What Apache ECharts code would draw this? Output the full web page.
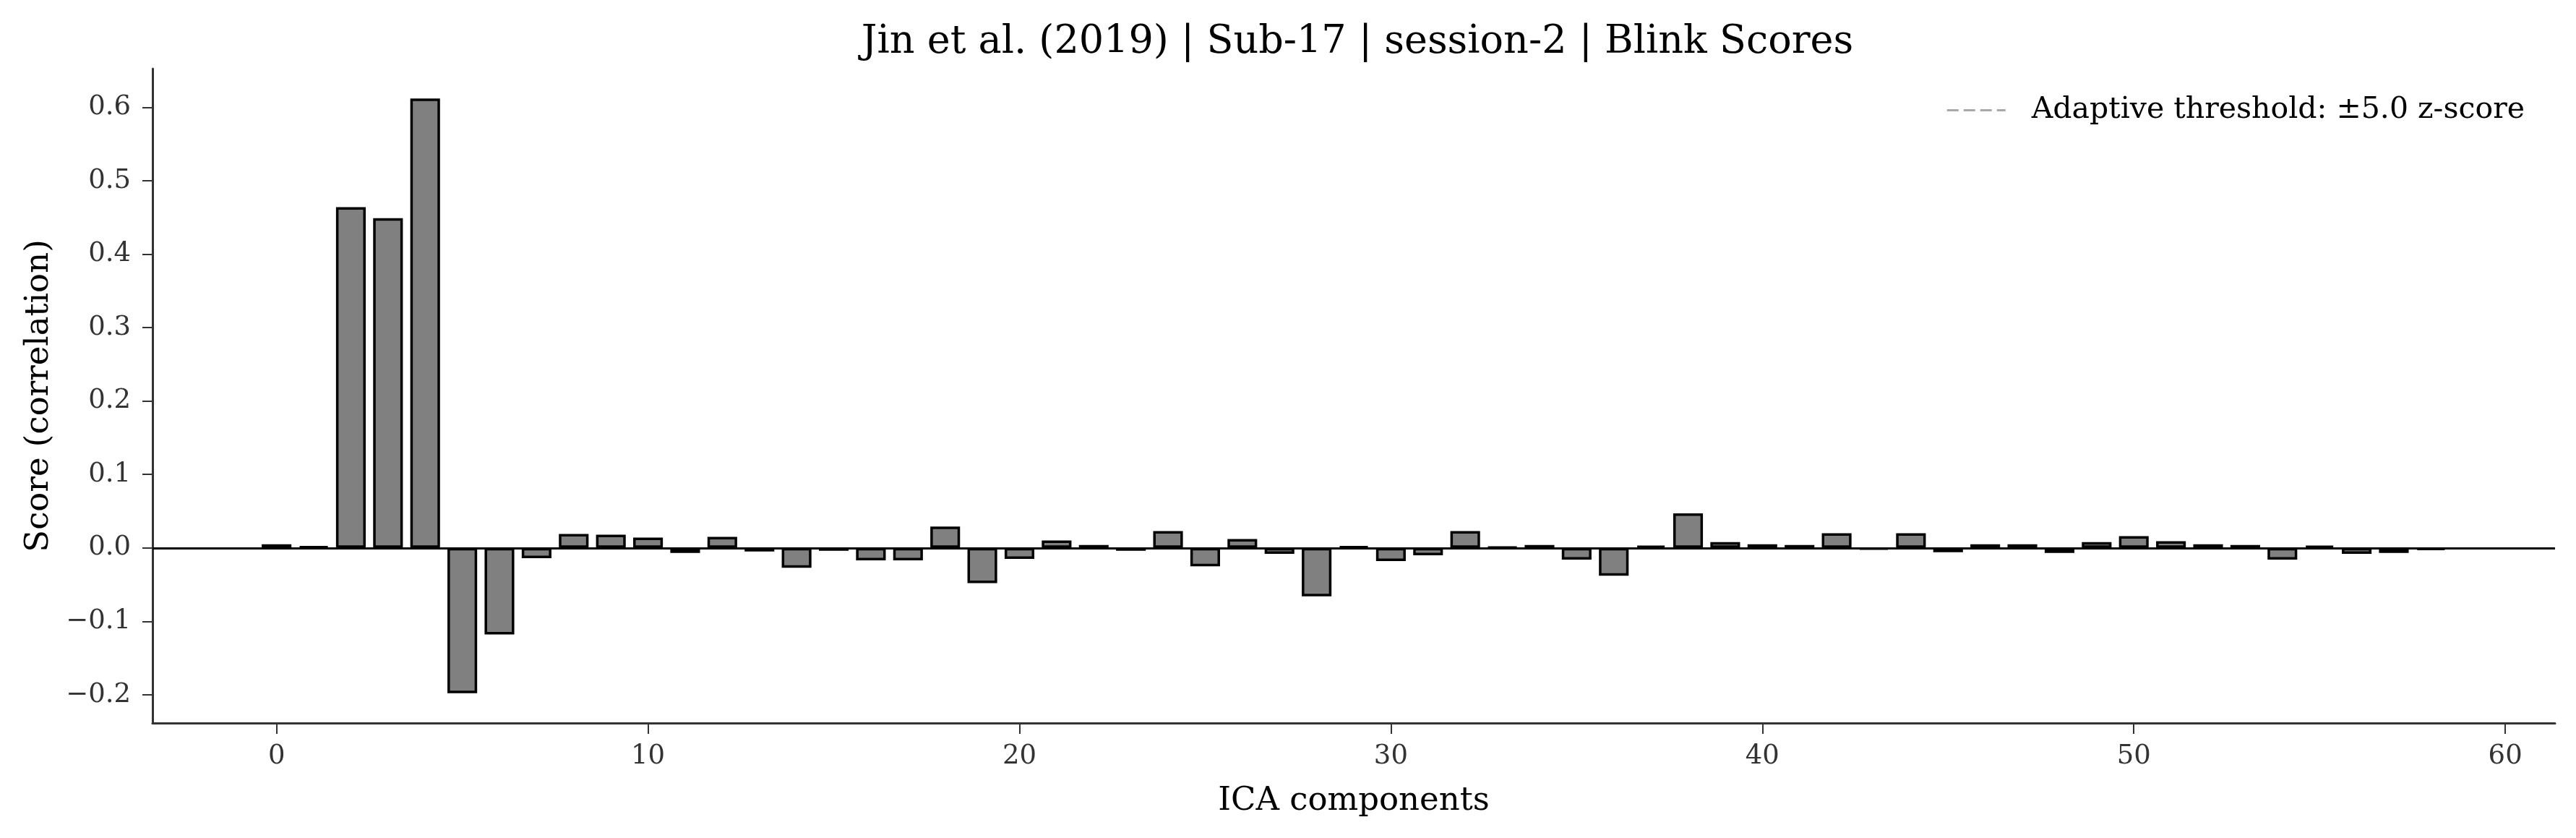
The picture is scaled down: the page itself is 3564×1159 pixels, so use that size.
<!DOCTYPE html>
<html>
<head>
<meta charset="utf-8">
<script src="https://cdn.jsdelivr.net/npm/echarts@6/dist/echarts.min.js"></script>
<style>
  html, body { margin: 0; padding: 0; background: #fff; }
  #chart { width: 3564px; height: 1159px; }
</style>
</head>
<body>
<div id="chart"></div>
<script>
// ICA component index and its blink score (correlation)
var components = [0, 1, 2, 3, 4, 5, 6, 7, 8, 9, 10, 11, 12, 13, 14, 15, 16, 17, 18, 19,
  20, 21, 22, 23, 24, 25, 26, 27, 28, 29, 30, 31, 32, 33, 34, 35, 36, 37, 38, 39,
  40, 41, 42, 43, 44, 45, 46, 47, 48, 49, 50, 51, 52, 53, 54, 55, 56, 57, 58];
var scores = [0.005, 0.002, 0.464, 0.449, 0.612, -0.198, -0.118, -0.014, 0.019, 0.018,
  0.014, -0.007, 0.015, -0.005, -0.027, -0.004, -0.017, -0.017, 0.029, -0.048,
  -0.015, 0.010, 0.004, -0.004, 0.023, -0.025, 0.012, -0.008, -0.066, 0.002,
  -0.018, -0.010, 0.023, 0.001, 0.004, -0.016, -0.038, 0.003, 0.047, 0.008,
  0.005, 0.004, 0.020, -0.002, 0.020, -0.006, 0.005, 0.005, -0.007, 0.008,
  0.016, 0.009, 0.005, 0.004, -0.016, 0.003, -0.008, -0.007, -0.003];
var xTicks = [0, 10, 20, 30, 40, 50, 60];
var yTicks = [-0.2, -0.1, 0.0, 0.1, 0.2, 0.3, 0.4, 0.5, 0.6];
var titleText = 'Jin et al. (2019) | Sub-17 | session-2 | Blink Scores';
var legendName = 'Adaptive threshold: \u00b15.0 z-score';

var font = 'DejaVu Serif';
var barW = 0.8;
var threshGrey = '#a8a8a8';

// axis limits like matplotlib autoscale (5% margins)
var xlo = components[0] - barW / 2, xhi = components[components.length - 1] + barW / 2;
var xMin = xlo - 0.05 * (xhi - xlo), xMax = xhi + 0.05 * (xhi - xlo);
var ylo = Math.min(0, Math.min.apply(null, scores)), yhi = Math.max(0, Math.max.apply(null, scores));
var yMin = ylo - 0.05 * (yhi - ylo), yMax = yhi + 0.05 * (yhi - ylo);

var grid = { left: 211, right: 29, top: 95, bottom: 159 };
var pxPerUnit = (3564 - grid.left - grid.right) / (xMax - xMin);

var barData = components.map(function (c, i) { return [c, scores[i]]; });

var chart = echarts.init(document.getElementById('chart'), null, { renderer: 'canvas' });
chart.setOption({
  animation: false,
  backgroundColor: '#fff',
  title: {
    text: titleText,
    left: grid.left + (3564 - grid.left - grid.right) / 2,
    textAlign: 'center',
    top: 27,
    textStyle: { fontFamily: font, fontSize: 54, fontWeight: 'normal', color: '#000' }
  },
  legend: {
    data: [legendName],
    right: 71,
    top: 132,
    padding: 0,
    itemWidth: 81,
    itemHeight: 20,
    itemStyle: { opacity: 0 },
    lineStyle: { color: threshGrey, width: 3, type: [16, 7], opacity: 1 },
    textStyle: { fontFamily: font, fontSize: 41, color: '#000', padding: [0, 0, 0, 31] }
  },
  grid: grid,
  xAxis: {
    type: 'value',
    min: xMin,
    max: xMax,
    name: 'ICA components',
    nameLocation: 'middle',
    nameGap: 86,
    nameTextStyle: { fontFamily: font, fontSize: 45, color: '#000' },
    axisLine: { show: true, onZero: false, lineStyle: { color: '#333', width: 3 } },
    axisTick: { show: true, length: 15, customValues: xTicks, lineStyle: { color: '#333', width: 2 } },
    axisLabel: {
      customValues: xTicks,
      margin: 28,
      fontFamily: font, fontSize: 37, color: '#333',
      formatter: function (v) { return String(v); }
    },
    splitLine: { show: false }
  },
  yAxis: {
    type: 'value',
    min: yMin,
    max: yMax,
    name: 'Score (correlation)',
    nameLocation: 'middle',
    nameRotate: 90,
    nameGap: 134,
    nameTextStyle: { fontFamily: font, fontSize: 45, color: '#000' },
    axisLine: { show: true, onZero: false, lineStyle: { color: '#333', width: 3 } },
    axisTick: { show: true, length: 14, customValues: yTicks, lineStyle: { color: '#333', width: 2 } },
    axisLabel: {
      customValues: yTicks,
      margin: 30,
      fontFamily: font, fontSize: 37, color: '#333',
      formatter: function (v) { return v.toFixed(1).replace('-', '\u2212'); }
    },
    splitLine: { show: false }
  },
  series: [
    {
      type: 'bar',
      name: 'scores',
      data: barData,
      barWidth: barW * pxPerUnit,
      itemStyle: { color: '#808080', borderColor: '#000', borderWidth: 3.5 },
      markLine: {
        silent: true,
        symbol: ['none', 'none'],
        label: { show: false },
        lineStyle: { color: '#000', width: 2.8, type: 'solid' },
        data: [{ yAxis: 0 }]
      },
      z: 2
    },
    {
      type: 'line',
      name: legendName,
      data: [],
      symbol: 'none',
      itemStyle: { color: threshGrey },
      lineStyle: { color: threshGrey, width: 3, type: [16, 7] }
    }
  ]
});
</script>
</body>
</html>
